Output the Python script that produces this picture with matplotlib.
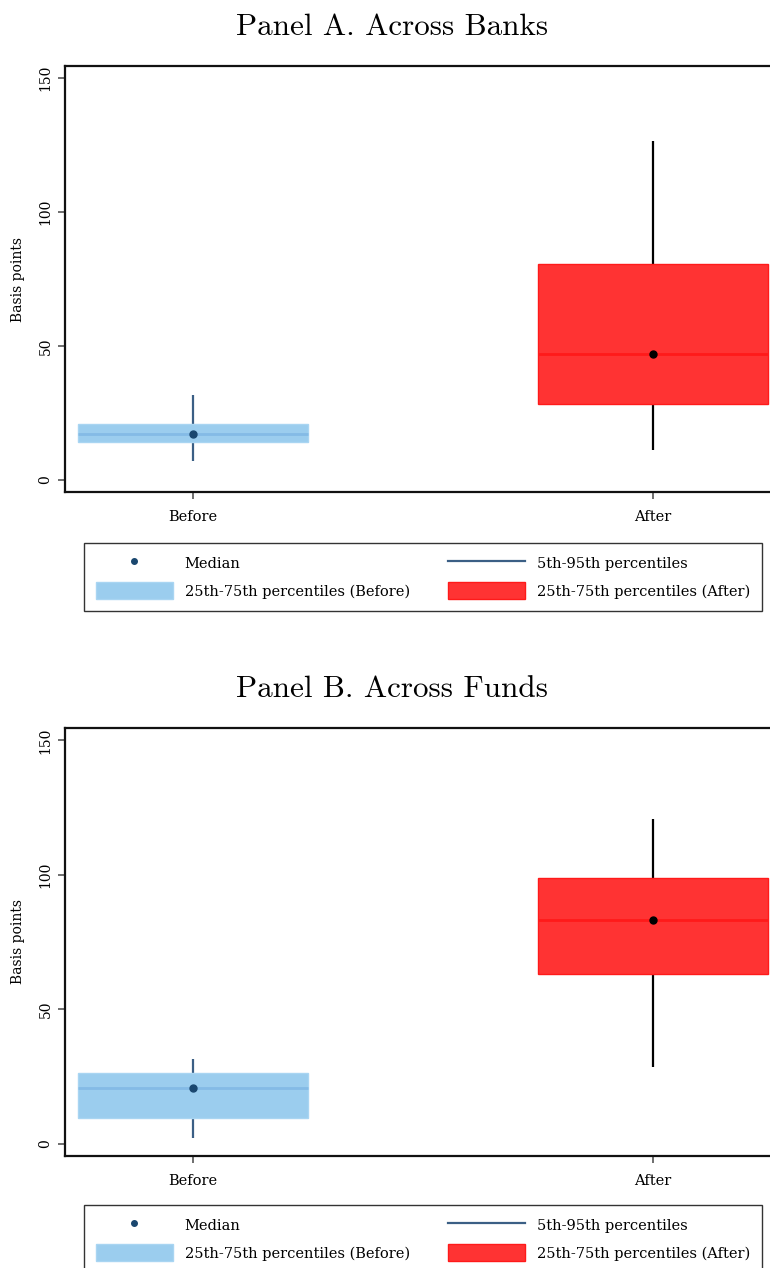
import matplotlib
matplotlib.use("Agg")
from matplotlib import pyplot as plt
from matplotlib.lines import Line2D
from matplotlib.patches import Patch
import numpy as np

# percentile summaries in basis points: p5, p25, median, p75, p95
periods = ["Before", "After"]
panels = ["Panel A. Across Banks", "Panel B. Across Funds"]

banks_p5 = [6.8, 11.2]
banks_p25 = [14.2, 28.4]
banks_med = [17.0, 46.9]
banks_p75 = [20.9, 80.5]
banks_p95 = [31.5, 126.4]

funds_p5 = [2.0, 28.4]
funds_p25 = [9.5, 63.0]
funds_med = [20.7, 83.0]
funds_p75 = [26.1, 98.7]
funds_p95 = [31.5, 120.8]

yticks = [0, 50, 100, 150]

W, H = 770, 1268
fig = plt.figure(figsize=(W / 100, H / 100), dpi=100)

text_font = "DejaVu Serif"
title_font = "cmr10"
fs = 10.5

box_fill = ["#9bcdee", "#ff3333"]
box_edge = ["#a9d5f2", "#ff1a1a"]
med_line = ["#84bbe6", "#ff1a1a"]
whisk_col = ["#3b5f85", "#000000"]
dot_col = ["#1a476f", "#000000"]


def px(x0, y0, x1, y1):
    # pixel box (left, top, right, bottom) -> figure fraction rect
    return [x0 / W, 1 - y1 / H, (x1 - x0) / W, (y1 - y0) / H]


def draw_panel(rect, title, title_y, p5, p25, med, p75, p95, legend_rect):
    ax = fig.add_axes(rect)
    xs = np.arange(1, len(periods) + 1)
    width = 0.5
    for i, x in enumerate(xs):
        ax.vlines(x, p5[i], p95[i], color=whisk_col[i], lw=1.6, zorder=1)
        ax.bar(x, p75[i] - p25[i], bottom=p25[i], width=width,
               color=box_fill[i], edgecolor=box_edge[i], lw=1.0, zorder=2)
        ax.hlines(med[i], x - width / 2, x + width / 2, color=med_line[i],
                  lw=2.0, zorder=3)
        ax.plot(x, med[i], "o", color=dot_col[i], ms=5, zorder=4)

    ax.set_xlim(0.722, 2.278)
    ax.set_ylim(-4.6, 154.6)
    ax.set_xticks(xs)
    ax.set_xticklabels(periods, fontsize=fs, family=text_font)
    ax.set_yticks(yticks)
    ax.set_yticklabels([str(t) for t in yticks], fontsize=fs - 0.5,
                       family=text_font, rotation=90, va="center")
    ax.tick_params(axis="both", direction="out", length=5, width=1.2,
                   color="#555555")
    ax.tick_params(axis="x", pad=8)
    ax.tick_params(axis="y", pad=4)
    ax.set_ylabel("Basis points", fontsize=fs - 0.5, family=text_font,
                  labelpad=10)
    for s in ax.spines.values():
        s.set_linewidth(1.6)
        s.set_color("#111111")

    fig.text(392 / W, 1 - title_y / H, title, ha="center", va="center",
             fontsize=22.4, family=title_font)

    handles = [
        Line2D([], [], ls="none", marker="o", ms=4, color=dot_col[0]),
        Patch(facecolor=box_fill[0], edgecolor=box_edge[0]),
        Line2D([], [], color=whisk_col[0], lw=1.6),
        Patch(facecolor=box_fill[1], edgecolor=box_edge[1]),
    ]
    labels = ["Median", "25th-75th percentiles (Before)",
              "5th-95th percentiles", "25th-75th percentiles (After)"]
    leg = fig.legend(handles, labels, loc="upper left",
                     bbox_to_anchor=legend_rect, mode="expand", ncol=2,
                     prop={"family": text_font, "size": fs},
                     handlelength=5.3, handleheight=1.4, handletextpad=0.8,
                     borderpad=0.8, labelspacing=0.75, columnspacing=2.0,
                     borderaxespad=0, fancybox=False, edgecolor="#333333",
                     framealpha=1)
    leg.get_frame().set_linewidth(1.0)
    return ax


draw_panel(px(65, 66, 781, 492), panels[0], 27,
           banks_p5, banks_p25, banks_med, banks_p75, banks_p95,
           px(84, 543, 762, 610))
draw_panel(px(65, 728, 781, 1156), panels[1], 689,
           funds_p5, funds_p25, funds_med, funds_p75, funds_p95,
           px(84, 1205, 762, 1272))

fig.savefig("out.png", dpi=100)
